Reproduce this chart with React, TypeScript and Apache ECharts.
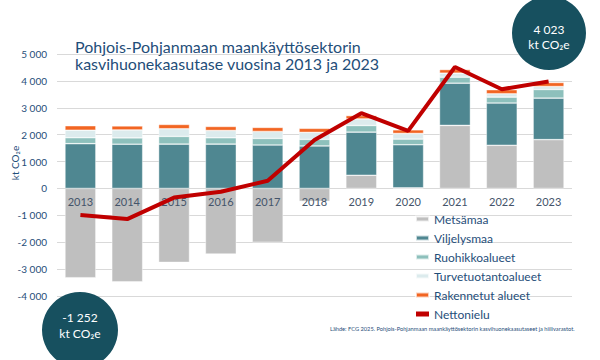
import { useEffect, useRef } from "react";
import * as echarts from "echarts";

const years = ["2013", "2014", "2015", "2016", "2017", "2018", "2019", "2020", "2021", "2022", "2023"];
const metsamaa = [-3320, -3470, -2750, -2440, -2000, -480, 490, 20, 2345, 1605, 1815];
const viljelysmaa = [1665, 1645, 1650, 1650, 1615, 1580, 1605, 1605, 1570, 1570, 1545];
const ruohikkoalueet = [222, 235, 285, 235, 245, 245, 245, 210, 222, 222, 320];
const turvetuotantoalueet = [280, 295, 285, 270, 260, 260, 245, 210, 150, 125, 110];
const rakennetut = [165, 150, 160, 150, 150, 150, 125, 135, 135, 150, 150];
const nettonielu = [-990, -1140, -340, -125, 285, 1800, 2800, 2140, 4515, 3690, 3980];

const seriesNames = ["Metsämaa", "Viljelysmaa", "Ruohikkoalueet", "Turvetuotantoalueet", "Rakennetut alueet", "Nettonielu"];
const colors = ["#bfbfbf", "#4f8791", "#8dc0bc", "#dcebed", "#f26522", "#c00000"];

const titleText = "Pohjois-Pohjanmaan maankäyttösektorin\nkasvihuonekaasutase vuosina 2013 ja 2023";
const sourceText = "Lähde: FCG 2025. Pohjois-Pohjanmaan maankäyttösektorin kasvihuonekaasutaseet ja hiilivarastot.";
const unitText = "kt CO₂e";
const net2013 = "-1 252";
const net2023 = "4 023";

const FONT = "Lato";
const DARK = "#1f4e79";

function fmt(v: number): string {
  const sign = v < 0 ? "-" : "";
  const a = Math.abs(v);
  if (a >= 1000) {
    const th = Math.floor(a / 1000);
    const rest = String(a % 1000).padStart(3, "0");
    return `${sign}${th} ${rest}`;
  }
  return `${sign}${a}`;
}

export default function App() {
  const ref = useRef<HTMLDivElement>(null);
  useEffect(() => {
    if (!ref.current) return;
    const chart = echarts.init(ref.current, undefined, { renderer: "svg" });
    const barData = [metsamaa, viljelysmaa, ruohikkoalueet, turvetuotantoalueet, rakennetut];
    const bars = barData.map((d, i) => ({
      name: seriesNames[i],
      type: "bar",
      stack: "total",
      data: d,
      barWidth: "66%",
      z: 2,
      itemStyle: { color: colors[i], borderColor: "rgba(255,255,255,0.7)", borderWidth: 0.6 },
    }));
    chart.setOption({
      animation: false,
      textStyle: { fontFamily: FONT },
      title: {
        text: titleText,
        left: 70,
        top: 33,
        textStyle: { fontFamily: FONT, fontSize: 16, fontWeight: "normal", color: DARK, lineHeight: 17 },
      },
      grid: { left: 57, right: 28, top: 54, bottom: 64, containLabel: false },
      legend: {
        orient: "vertical",
        left: 410,
        top: 207,
        itemWidth: 13,
        itemHeight: 5,
        itemGap: 5,
        textStyle: { fontFamily: FONT, fontSize: 12, color: DARK, lineHeight: 14 },
        data: seriesNames.map((n) => ({ name: n, icon: "rect" })),
      },
      xAxis: {
        type: "category",
        data: years,
        z: 3,
        offset: -108,
        axisLine: { show: false, onZero: false },
        axisTick: { show: false },
        axisLabel: { color: "#44546a", fontSize: 11, margin: 8, fontFamily: FONT },
      },
      yAxis: {
        type: "value",
        min: -4000,
        max: 5000,
        interval: 1000,
        axisLine: { show: false },
        axisTick: { show: false },
        axisLabel: { color: DARK, fontSize: 10, margin: 10, fontFamily: FONT, formatter: (v: number) => fmt(v) },
        splitLine: { lineStyle: { color: "#d9d9d9", width: 1.2 } },
      },
      series: [
        ...bars,
        {
          name: seriesNames[5],
          type: "line",
          data: nettonielu,
          z: 5,
          symbol: "none",
          lineStyle: { color: colors[5], width: 4 },
          itemStyle: { color: colors[5] },
        },
      ],
      graphic: [
        {
          type: "text",
          x: 15,
          y: 163,
          rotation: Math.PI / 2,
          z: 10,
          style: { text: unitText, fill: DARK, fontSize: 10, fontFamily: FONT, align: "center", verticalAlign: "middle" },
        },
        {
          type: "text",
          x: 330,
          y: 328,
          z: 10,
          style: { text: sourceText, fill: DARK, fontSize: 5.7, fontFamily: FONT, verticalAlign: "middle" },
        },
        {
          type: "circle",
          shape: { cx: 549, cy: 33, r: 37 },
          z: 10,
          style: { fill: "#17505f" },
        },
        {
          type: "text",
          x: 549,
          y: 37,
          z: 11,
          style: { text: `${net2023}\n${unitText}`, fill: "#fff", fontSize: 12, lineHeight: 15, fontFamily: FONT, align: "center", verticalAlign: "middle" },
        },
        {
          type: "circle",
          shape: { cx: 80, cy: 330, r: 38 },
          z: 10,
          style: { fill: "#17505f" },
        },
        {
          type: "text",
          x: 80,
          y: 325,
          z: 11,
          style: { text: `${net2013}\n${unitText}`, fill: "#fff", fontSize: 12, lineHeight: 16, fontFamily: FONT, align: "center", verticalAlign: "middle" },
        },
      ],
    });
    return () => chart.dispose();
  }, []);
  return <div ref={ref} style={{ position: "fixed", left: 0, top: 0, width: 600, height: 360, background: "#fff" }} />;
}
